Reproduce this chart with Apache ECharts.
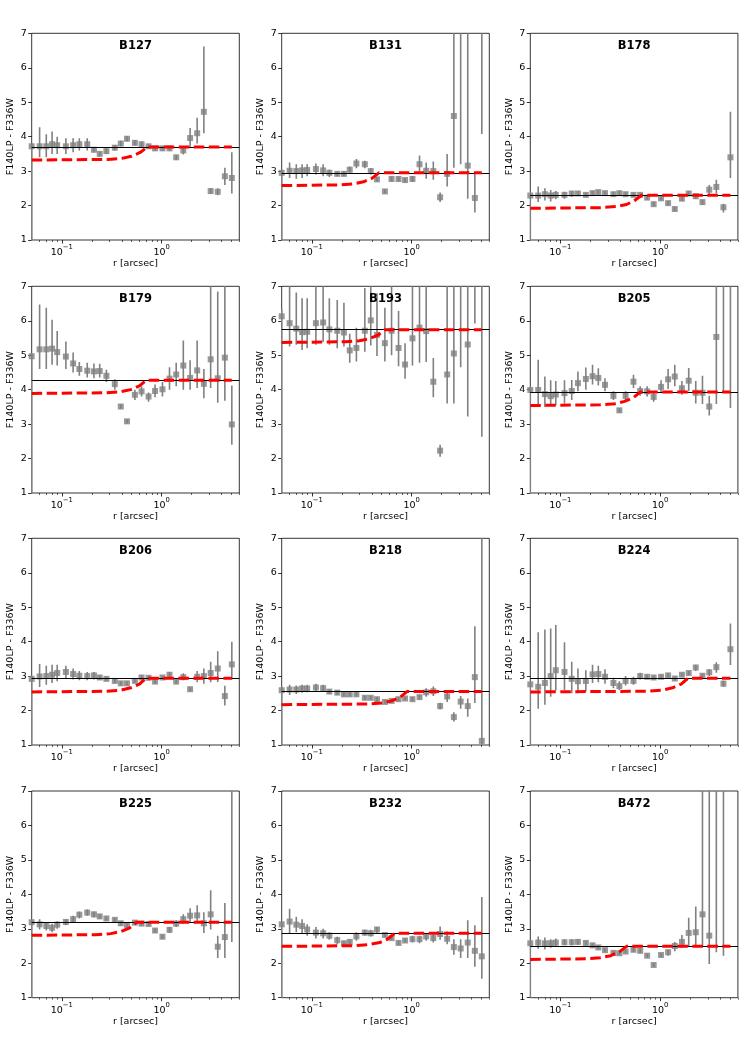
<!DOCTYPE html>
<html style="height: 100%">
<head>
<meta charset="utf-8">
</head>
<body style="height: 100%; margin: 0; background: #fff">
<div id="container" style="width: 748px; height: 1057px"></div>
<script type="text/javascript" src="https://cdn.jsdelivr.net/npm/echarts@6/dist/echarts.min.js"></script>
<script type="text/javascript">
// radii of the bins [arcsec]
var R = [0.05, 0.06, 0.07, 0.08, 0.09, 0.11, 0.13, 0.15, 0.18, 0.21, 0.24, 0.28, 0.34, 0.39, 0.45,
         0.54, 0.63, 0.74, 0.86, 1.02, 1.2, 1.4, 1.65, 1.93, 2.27, 2.65, 3.1, 3.65, 4.3, 5.05];

var names = ['B127', 'B131', 'B178', 'B179', 'B193', 'B205', 'B206', 'B218', 'B224', 'B225', 'B232', 'B472'];
// black horizontal level of each cluster
var levels = [3.7, 2.95, 2.3, 4.27, 5.74, 3.93, 2.94, 2.55, 2.94, 3.19, 2.87, 2.49];

var xMajor = [0.1, 1];
var xMinor = [0.06, 0.07, 0.08, 0.09, 0.2, 0.3, 0.4, 0.5, 0.6, 0.7, 0.8, 0.9, 2, 3, 4, 5, 6];

// colour, lower and upper end of error bar (8 = beyond the top of the plot, null = not drawn)
var c127 = [3.72,3.72,3.72,3.78,3.75,3.72,3.75,3.78,3.78,3.62,3.5,3.58,3.68,3.8,3.94,3.82,3.78,3.72,3.66,3.66,3.66,3.4,3.6,3.96,4.1,4.72,2.42,2.4,2.85,2.8];
var lo127 = [0,3.4,3.4,3.5,3.5,3.5,3.55,3.6,3.6,3.54,3.43,3.5,3.6,3.72,3.86,3.74,3.7,3.66,3.6,3.6,3.6,3.33,3.48,3.7,3.8,4.1,2.34,2.3,2.6,2.35];
var hi127 = [3.8,4.27,4.07,4.15,4.0,3.95,3.95,3.95,3.95,3.7,3.57,3.66,3.76,3.88,4.02,3.9,3.86,3.78,3.72,3.72,3.72,3.47,3.72,4.25,4.55,6.62,2.5,2.5,3.1,3.55];

var c131 = [2.95,3.01,3.0,3.02,3.03,3.06,3.02,2.95,2.92,2.92,3.04,3.22,3.2,3.0,2.76,2.41,2.77,2.77,2.74,2.77,3.2,3.01,3.0,2.24,2.92,4.6,null,3.16,2.22,null];
var lo131 = [0,2.8,2.78,2.8,2.85,2.9,2.85,2.83,2.85,2.85,2.95,3.08,3.08,2.9,2.69,2.35,2.7,2.7,2.67,2.68,3.0,2.78,2.75,2.1,2.55,3.1,3.2,2.2,1.8,4.08];
var hi131 = [3.05,3.25,3.2,3.2,3.2,3.22,3.2,3.05,2.99,2.99,3.13,3.35,3.3,3.08,2.83,2.47,2.84,2.84,2.81,2.86,3.45,3.25,3.28,2.38,3.5,8,8,8,2.95,8];

var c178 = [2.29,2.29,2.33,2.29,2.31,2.31,2.35,2.35,2.31,2.36,2.39,2.36,2.33,2.36,2.33,2.31,2.31,2.23,2.04,2.21,2.07,1.9,2.2,2.35,2.27,2.1,2.46,2.54,1.95,3.4];
var lo178 = [0,2.1,2.15,2.12,2.18,2.2,2.25,2.28,2.25,2.3,2.33,2.3,2.27,2.3,2.27,2.25,2.25,2.17,1.98,2.15,2.01,1.84,2.13,2.28,2.2,2.03,2.3,2.35,1.8,2.8];
var hi178 = [2.4,2.55,2.5,2.45,2.42,2.4,2.42,2.42,2.37,2.42,2.45,2.42,2.39,2.42,2.39,2.37,2.37,2.29,2.1,2.27,2.13,1.96,2.27,2.42,2.34,2.17,2.6,2.75,2.05,4.72];

var c179 = [4.97,5.17,5.17,5.19,5.09,4.96,4.76,4.6,4.55,4.53,4.54,4.4,4.16,3.51,3.08,3.85,3.95,3.8,3.96,4.01,4.32,4.44,4.7,4.34,4.56,4.17,4.88,4.33,4.93,2.99];
var lo179 = [0,4.6,4.6,4.72,4.7,4.6,4.5,4.4,4.35,4.33,4.35,4.22,4.0,3.45,3.02,3.7,3.8,3.65,3.78,3.8,4.0,4.1,4.0,4.0,4.05,3.75,4.05,3.62,3.68,2.4];
var hi179 = [5.05,6.47,6.38,6.03,5.7,5.4,5.08,4.8,4.78,4.76,4.75,4.58,4.3,3.57,3.14,4.0,4.1,3.92,4.15,4.22,4.65,4.78,5.43,4.85,5.43,4.6,8,6.85,8,4.12];

var c193 = [6.13,5.93,5.77,5.67,5.68,5.93,5.95,5.75,5.71,5.66,5.14,5.21,5.71,6.01,5.59,5.35,5.71,5.21,4.73,5.49,5.8,5.7,4.23,2.23,4.44,5.05,null,5.31,null,null];
var lo193 = [0,5.25,5.3,5.15,5.2,5.3,5.38,5.3,5.2,5.25,4.78,4.82,5.1,5.28,4.98,4.82,5.0,4.68,4.32,4.7,4.78,4.8,3.78,2.05,3.6,3.6,4.65,3.22,5.92,2.63];
var hi193 = [6.35,8,6.82,6.65,6.65,8,8,6.65,6.6,6.52,5.62,5.8,6.95,8,6.8,6.38,8,6.28,5.35,8,8,8,4.92,2.4,8,8,8,8,8,8];

var c205 = [3.99,3.99,3.87,3.81,3.86,3.9,3.96,4.19,4.31,4.39,4.34,4.14,3.82,3.4,3.82,4.23,3.96,3.95,3.79,4.08,4.3,4.38,4.04,4.26,3.91,3.91,3.51,5.53,null,null];
var lo205 = [0,3.5,3.5,3.55,3.55,3.6,3.7,3.95,4.0,4.15,4.12,3.95,3.7,3.34,3.7,4.05,3.82,3.8,3.65,3.9,4.02,4.1,3.85,3.95,3.6,3.58,3.25,3.58,3.9,3.47];
var hi205 = [4.08,4.87,4.38,4.27,4.25,4.27,4.28,4.53,4.64,4.72,4.62,4.33,3.95,3.46,3.95,4.43,4.1,4.1,3.92,4.27,4.6,4.72,4.25,4.63,4.25,4.4,3.82,8,8,8];

var c206 = [2.92,2.99,3.0,3.04,3.09,3.12,3.06,3.01,3.0,3.02,2.96,2.92,2.86,2.79,2.79,2.86,2.96,2.95,2.84,2.96,3.04,2.84,2.97,2.62,2.98,3.0,3.09,3.22,2.42,3.34];
var lo206 = [0,2.68,2.75,2.8,2.85,2.92,2.9,2.88,2.88,2.9,2.9,2.86,2.8,2.73,2.73,2.8,2.9,2.89,2.78,2.9,2.95,2.78,2.88,2.56,2.82,2.78,2.82,2.83,2.15,2.9];
var hi206 = [3.0,3.35,3.3,3.33,3.33,3.3,3.22,3.15,3.12,3.12,3.02,2.98,2.92,2.85,2.85,2.92,3.02,3.01,2.9,3.02,3.12,2.9,3.08,2.68,3.15,3.22,3.42,3.72,2.72,4.0];

var c218 = [2.59,2.61,2.61,2.64,2.64,2.67,2.65,2.55,2.52,2.47,2.47,2.47,2.37,2.37,2.33,2.25,2.28,2.33,2.35,2.33,2.39,2.53,2.56,2.13,2.41,1.81,2.26,2.13,2.97,1.12];
var lo218 = [0,2.45,2.48,2.52,2.53,2.57,2.55,2.49,2.46,2.41,2.41,2.41,2.31,2.31,2.27,2.19,2.22,2.27,2.29,2.27,2.33,2.4,2.42,2.03,2.25,1.68,2.05,1.82,2.22,1.0];
var hi218 = [2.68,2.75,2.73,2.75,2.75,2.78,2.75,2.61,2.58,2.53,2.53,2.53,2.43,2.43,2.39,2.31,2.34,2.39,2.41,2.39,2.45,2.65,2.7,2.23,2.55,1.95,2.42,2.35,4.45,8];

var c224 = [2.76,2.69,2.8,3.0,3.17,3.12,2.92,2.85,2.86,3.05,3.06,2.98,2.8,2.71,2.86,2.86,3.0,2.98,2.96,2.98,3.02,2.93,3.04,3.09,3.25,3.01,3.11,3.26,2.78,3.78];
var lo224 = [0,2.05,2.17,2.4,2.58,2.6,2.5,2.55,2.55,2.8,2.82,2.78,2.65,2.6,2.73,2.75,2.9,2.92,2.9,2.92,2.96,2.87,2.98,3.03,3.15,2.95,3.0,3.1,2.68,3.32];
var hi224 = [2.85,4.27,4.35,4.38,4.48,3.98,3.42,3.22,3.17,3.33,3.3,3.2,2.95,2.85,3.0,2.98,3.1,3.04,3.02,3.04,3.08,2.99,3.1,3.15,3.33,3.07,3.2,3.4,2.87,4.53];

var c225 = [3.19,3.13,3.08,3.03,3.12,3.2,3.28,3.41,3.47,3.42,3.36,3.3,3.26,3.16,3.1,3.18,3.15,3.14,2.95,2.77,2.97,3.15,3.28,3.38,3.39,3.16,3.42,2.48,2.76,null];
var lo225 = [0,2.98,2.95,2.9,3.0,3.1,3.17,3.3,3.38,3.33,3.3,3.24,3.2,3.1,3.04,3.12,3.09,3.08,2.89,2.71,2.88,3.05,3.15,3.2,3.2,2.88,2.98,2.15,2.15,2.62];
var hi225 = [3.27,3.28,3.2,3.15,3.22,3.28,3.38,3.5,3.56,3.5,3.42,3.36,3.32,3.22,3.16,3.24,3.21,3.2,3.01,2.83,3.05,3.25,3.42,3.6,3.68,3.48,4.12,2.8,3.75,8];

var c232 = [3.13,3.21,3.12,3.08,2.98,2.89,2.87,2.8,2.67,2.58,2.62,2.78,2.89,2.87,2.98,2.82,2.73,2.59,2.66,2.7,2.7,2.78,2.73,2.85,2.71,2.47,2.43,2.6,2.36,2.2];
var lo232 = [0,2.88,2.9,2.85,2.8,2.72,2.72,2.68,2.55,2.52,2.56,2.65,2.8,2.78,2.88,2.76,2.67,2.53,2.6,2.6,2.58,2.65,2.6,2.68,2.55,2.25,2.15,2.15,1.9,1.55];
var hi232 = [3.2,3.58,3.35,3.28,3.13,3.05,3.0,2.9,2.77,2.64,2.68,2.9,2.97,2.97,3.05,2.88,2.79,2.65,2.72,2.8,2.8,2.88,2.85,3.07,2.92,2.7,2.7,3.25,3.1,3.92];

var c472 = [2.58,2.6,2.58,2.58,2.6,2.61,2.61,2.62,2.59,2.52,2.46,2.38,2.3,2.29,2.34,2.39,2.36,2.22,1.95,2.24,2.32,2.5,2.62,2.88,2.9,3.42,2.8,null,null,null];
var lo472 = [0,2.42,2.4,2.45,2.48,2.52,2.52,2.53,2.53,2.46,2.4,2.32,2.24,2.23,2.28,2.33,2.3,2.16,1.89,2.18,2.22,2.35,2.45,2.5,2.48,2.5,1.98,2.32,2.22,null];
var hi472 = [2.66,2.78,2.75,2.7,2.72,2.7,2.7,2.7,2.65,2.58,2.52,2.44,2.36,2.35,2.4,2.45,2.42,2.28,2.01,2.3,2.4,2.62,2.82,3.32,3.65,8,8,8,8,null];

// red dashed model curves [r, colour]
var red127 = [[0.05,3.32],[0.29,3.34],[0.40,3.37],[0.50,3.43],[0.61,3.54],[0.72,3.70],[5.05,3.70]];
var red131 = [[0.05,2.58],[0.19,2.60],[0.26,2.63],[0.33,2.69],[0.40,2.79],[0.47,2.95],[5.05,2.95]];
var red178 = [[0.05,1.92],[0.26,1.94],[0.36,1.97],[0.46,2.03],[0.55,2.14],[0.65,2.30],[5.05,2.30]];
var red179 = [[0.05,3.89],[0.28,3.91],[0.39,3.94],[0.49,4.00],[0.60,4.11],[0.70,4.27],[5.05,4.27]];
var red193 = [[0.05,5.37],[0.22,5.39],[0.30,5.42],[0.38,5.48],[0.46,5.58],[0.54,5.74],[5.05,5.74]];
var red205 = [[0.05,3.54],[0.25,3.56],[0.35,3.59],[0.44,3.66],[0.54,3.77],[0.63,3.93],[5.05,3.93]];
var red206 = [[0.05,2.54],[0.28,2.56],[0.39,2.59],[0.49,2.66],[0.60,2.77],[0.70,2.94],[5.05,2.94]];
var red218 = [[0.05,2.17],[0.36,2.19],[0.50,2.22],[0.63,2.28],[0.77,2.39],[0.90,2.55],[5.05,2.55]];
var red224 = [[0.05,2.54],[0.76,2.56],[1.05,2.59],[1.33,2.66],[1.62,2.77],[1.90,2.94],[5.05,2.94]];
var red225 = [[0.05,2.81],[0.22,2.83],[0.31,2.86],[0.39,2.92],[0.48,3.03],[0.56,3.19],[5.05,3.19]];
var red232 = [[0.05,2.49],[0.27,2.51],[0.37,2.54],[0.48,2.60],[0.58,2.71],[0.68,2.87],[5.05,2.87]];
var red472 = [[0.05,2.11],[0.18,2.13],[0.25,2.16],[0.32,2.22],[0.39,2.33],[0.46,2.49],[5.05,2.49]];

var colours = [c127, c131, c178, c179, c193, c205, c206, c218, c224, c225, c232, c472];
var lows = [lo127, lo131, lo178, lo179, lo193, lo205, lo206, lo218, lo224, lo225, lo232, lo472];
var highs = [hi127, hi131, hi178, hi179, hi193, hi205, hi206, hi218, hi224, hi225, hi232, hi472];
var reds = [red127, red131, red178, red179, red193, red205, red206, red218, red224, red225, red232, red472];

var dom = document.getElementById("container");
var myChart = echarts.init(dom, null, {renderer: 'canvas'});

var FONT = 'DejaVu Sans';
var lefts = [31.7, 281.7, 530.3];
var tops = [33.3, 286.3, 538.3, 791];
var W = 207.6, H = 206.7;

var grids = [], xAxes = [], yAxes = [], series = [], texts = [];

function errItem(params, api) {
    var lo = api.value(1), hi = api.value(2);
    if (isNaN(lo) || isNaN(hi)) return null;
    var p1 = api.coord([api.value(0), lo]);
    var p2 = api.coord([api.value(0), hi]);
    return {
        type: 'line',
        shape: {x1: p1[0], y1: p1[1], x2: p2[0], y2: p2[1]},
        style: {stroke: '#808080', lineWidth: 1.6}
    };
}

names.forEach(function (name, i) {
    var left = lefts[i % 3], top = tops[Math.floor(i / 3)];
    grids.push({left: left, top: top, width: W, height: H, show: true,
        borderColor: '#000', borderWidth: 0.8, backgroundColor: 'transparent'});

    xAxes.push({
        gridIndex: i, type: 'log', logBase: 10, min: 0.05, max: 6, position: 'bottom',
        axisLine: {show: false}, splitLine: {show: false},
        axisTick: {show: true, length: 3.5, customValues: xMajor, lineStyle: {color: '#000', width: 0.8}},
        axisLabel: {
            customValues: xMajor, margin: 4, color: '#000',
            formatter: function (v) {
                var e = Math.round(Math.log(v) / Math.LN10);
                return '{n|10}{s|' + (e < 0 ? '\u2212' + (-e) : e) + '}';
            },
            rich: {
                n: {fontSize: 9.5, fontFamily: FONT, color: '#000', verticalAlign: 'bottom', lineHeight: 14},
                s: {fontSize: 6.8, fontFamily: FONT, color: '#000', verticalAlign: 'top', lineHeight: 8}
            }
        },
        name: 'r [arcsec]', nameLocation: 'middle', nameGap: 18,
        nameTextStyle: {fontSize: 9.5, fontFamily: FONT, color: '#000'}
    });
    xAxes.push({
        gridIndex: i, type: 'log', logBase: 10, min: 0.05, max: 6, position: 'bottom',
        axisLine: {show: false}, splitLine: {show: false},
        axisTick: {show: true, length: 2, customValues: xMinor, lineStyle: {color: '#000', width: 0.6}},
        axisLabel: {show: false}
    });
    yAxes.push({
        gridIndex: i, type: 'value', min: 1, max: 7, interval: 1,
        axisLine: {show: false}, splitLine: {show: false},
        axisTick: {show: true, length: 3.5, lineStyle: {color: '#000', width: 0.8}},
        axisLabel: {fontSize: 9.5, fontFamily: FONT, color: '#000', margin: 5},
        name: 'F140LP - F336W', nameLocation: 'middle', nameGap: 16,
        nameTextStyle: {fontSize: 9.5, fontFamily: FONT, color: '#000'}
    });

    var c = colours[i], lo = lows[i], hi = highs[i];
    var errData = R.map(function (r, k) { return [r, lo[k], hi[k]]; });
    var pts = [];
    R.forEach(function (r, k) { if (c[k] !== null) pts.push([r, c[k]]); });

    series.push({
        type: 'custom', xAxisIndex: 2 * i, yAxisIndex: i, clip: true,
        renderItem: errItem, encode: {x: 0, y: [1, 2]}, data: errData, z: 2, silent: true
    });
    series.push({
        type: 'scatter', xAxisIndex: 2 * i, yAxisIndex: i, symbol: 'rect', symbolSize: 6,
        itemStyle: {color: '#808080'}, data: pts, z: 3, silent: true,
        markLine: {
            silent: true, symbol: ['none', 'none'], label: {show: false},
            lineStyle: {color: '#000', type: 'solid', width: 1.1},
            data: [{yAxis: levels[i]}], z: 4
        }
    });
    series.push({
        type: 'line', xAxisIndex: 2 * i, yAxisIndex: i, data: reds[i], showSymbol: false,
        lineStyle: {color: '#ff0000', width: 3, type: [10.5, 4.5]}, z: 5, silent: true
    });

    texts.push({
        type: 'text', x: left + W / 2, y: top + 13, z: 100,
        style: {text: name, textAlign: 'center', textVerticalAlign: 'middle',
            font: 'bold 11.5px "DejaVu Sans"', fill: '#000'}
    });
});

var option = {
    animation: false,
    backgroundColor: '#fff',
    textStyle: {fontFamily: FONT},
    grid: grids,
    xAxis: xAxes,
    yAxis: yAxes,
    series: series,
    graphic: {elements: texts}
};

myChart.setOption(option);
</script>
</body>
</html>
